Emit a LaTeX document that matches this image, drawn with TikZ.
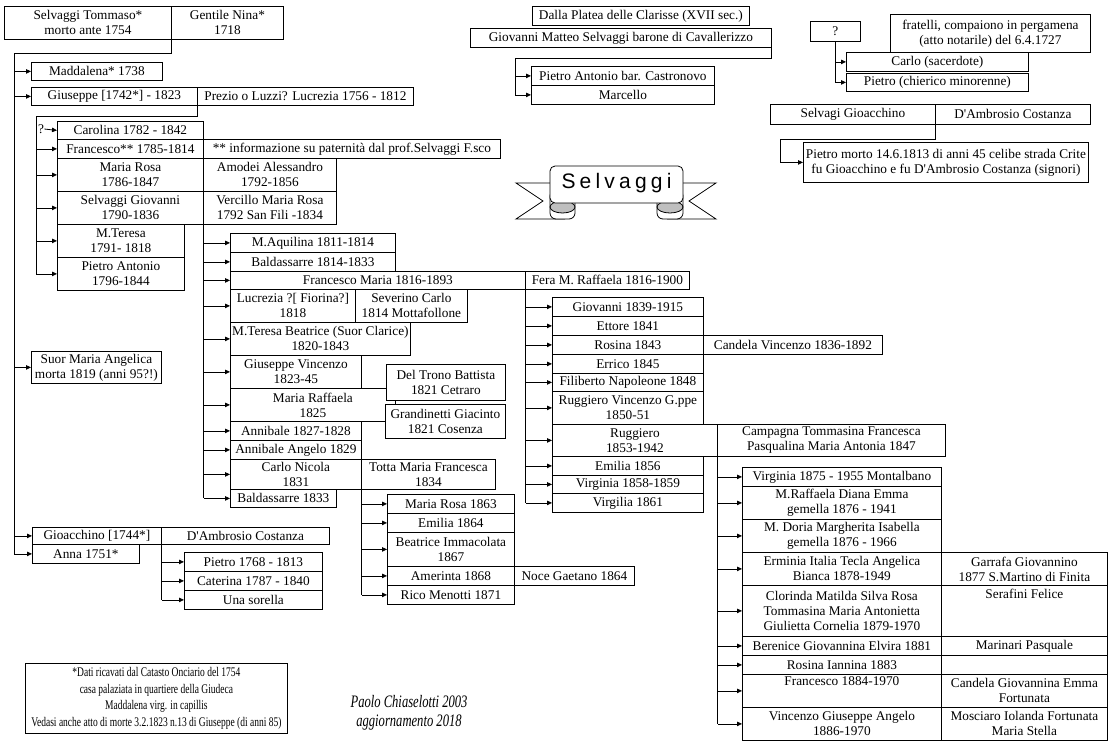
\documentclass[tikz,border=0pt]{standalone}
\usepackage{fontspec}
\setmainfont{Liberation Serif}
\newfontfamily\bannerfont[LetterSpace=20]{Liberation Sans}
\newfontfamily\notefont[FakeStretch=0.72]{Liberation Serif}
\newfontfamily\signfont[FakeStretch=0.72]{Liberation Serif}
\usetikzlibrary{arrows.meta}

\begin{document}
\begin{tikzpicture}[x=1pt,y=-1pt,>={Triangle[length=5pt,width=4.5pt]},line width=0.8pt,
  pbox/.style={draw,fill=white,anchor=north west,inner sep=1pt,align=center,font=\fontsize{13.3}{15}\selectfont},
  sz/.style 2 args={minimum width=#1,minimum height=#2}]
\useasboundingbox (0,0) rectangle (1110,745);
% Tommaso e Nina
\node[pbox,sz={167}{33}] (tommaso) at (4,6) {Selvaggi Tommaso*\\morto ante 1754};
\node[pbox,sz={112}{33}] (nina) at (171,6) {Gentile Nina*\\1718};
\node[pbox,sz={131}{18}] (maddalena) at (31,62) {Maddalena* 1738};
\node[pbox,sz={166}{18}] (giuseppe) at (31,87) {Giuseppe [1742*] - 1823};
\node[pbox,sz={216}{18}] (lucrezia) at (197,87) {Prezio o Luzzi? Lucrezia 1756 - 1812};
\node[pbox,sz={130}{32}] (angelica) at (31,351) {Suor Maria Angelica\\morta 1819 (anni 95?!)};
\node[pbox,sz={129}{17}] (gioacchino) at (32,527) {Gioacchino [1744*]};
\node[pbox,sz={168}{17}] (dambrosio) at (161,527) {D\textquotesingle Ambrosio Costanza};
\node[pbox,sz={107}{19}] (anna) at (32,544) {Anna 1751*};
% Giuseppe e Lucrezia
\node[font=\fontsize{13.3}{15}\selectfont,inner sep=0pt] (qcaro) at (41,129) {?};
\node[pbox,sz={146}{18}] (carolina) at (57,121) {Carolina 1782 - 1842};
\node[pbox,sz={146}{19}] (francesco) at (57,139) {Francesco** 1785-1814};
\node[pbox,sz={297}{19}] (fnote) at (203,139) {** informazione su paternità dal prof.Selvaggi F.sco};
\node[pbox,sz={146}{33}] (mrosa) at (57,158) {Maria Rosa\\1786-1847};
\node[pbox,sz={133}{33}] (amodei) at (203,158) {Amodei Alessandro\\1792-1856};
\node[pbox,sz={146}{33}] (giovanni) at (57,191) {Selvaggi Giovanni\\1790-1836};
\node[pbox,sz={133}{33}] (vercillo) at (203,191) {Vercillo Maria Rosa\\1792 San Fili -1834};
\node[pbox,sz={127}{33}] (mteresa) at (57,224) {M.Teresa\\1791- 1818};
\node[pbox,sz={127}{33}] (pantonio) at (57,257) {Pietro Antonio\\1796-1844};
% Gioacchino e D'Ambrosio
\node[pbox,sz={138}{19}] (pietro) at (184,552) {Pietro 1768 - 1813};
\node[pbox,sz={138}{19}] (caterina) at (184,571) {Caterina 1787 - 1840};
\node[pbox,sz={138}{19}] (sorella) at (184,590) {Una sorella};
% Giovanni e Vercillo
\node[pbox,sz={165}{19}] (aquilina) at (230,233) {M.Aquilina 1811-1814};
\node[pbox,sz={165}{19}] (baldA) at (230,252) {Baldassarre 1814-1833};
\node[pbox,sz={295}{18}] (fmaria) at (230,271) {Francesco Maria 1816-1893};
\node[pbox,sz={164}{18}] (fera) at (525,271) {Fera M. Raffaela 1816-1900};
\node[pbox,sz={125}{33}] (lucreziaB) at (230,289) {Lucrezia ?[ Fiorina?]\\1818};
\node[pbox,sz={112}{33}] (severino) at (355,289) {Severino Carlo\\1814 Mottafollone};
\node[pbox,sz={180}{33}] (mtbeatrice) at (230,322) {M.Teresa Beatrice (Suor Clarice)\\1820-1843};
\node[pbox,sz={131}{33}] (gvincenzo) at (230,355) {Giuseppe Vincenzo\\1823-45};
\node[pbox,sz={165}{33}] (mraffaela) at (230,388) {Maria Raffaela\\1825};
\node[pbox,sz={119}{36}] (deltrono) at (386,364) {Del Trono Battista\\1821 Cetraro};
\node[pbox,sz={120}{34}] (grandinetti) at (385,404) {Grandinetti Giacinto\\1821 Cosenza};
\node[pbox,sz={131}{19}] (annibale) at (230,421) {Annibale 1827-1828};
\node[pbox,sz={131}{19}] (annangelo) at (230,440) {Annibale Angelo 1829};
\node[pbox,sz={131}{30}] (carlo) at (230,459) {Carlo Nicola\\1831};
\node[pbox,sz={134}{30}] (totta) at (361,459) {Totta Maria Francesca\\1834};
\node[pbox,sz={106}{18}] (baldB) at (230,489) {Baldassarre 1833};
% Carlo Nicola e Totta
\node[pbox,sz={127}{19}] (mrosaB) at (387,494) {Maria Rosa 1863};
\node[pbox,sz={127}{19}] (emiliaB) at (387,513) {Emilia 1864};
\node[pbox,sz={127}{34}] (beatrice) at (387,532) {Beatrice Immacolata\\1867};
\node[pbox,sz={127}{19}] (amerinta) at (387,566) {Amerinta 1868};
\node[pbox,sz={120}{19}] (noce) at (514,566) {Noce Gaetano 1864};
\node[pbox,sz={127}{19}] (rico) at (387,585) {Rico Menotti 1871};
% Francesco Maria e Fera
\node[pbox,sz={151}{19}] (giovB) at (552,297) {Giovanni 1839-1915};
\node[pbox,sz={151}{19}] (ettore) at (552,316) {Ettore 1841};
\node[pbox,sz={151}{19}] (rosina) at (552,335) {Rosina 1843};
\node[pbox,sz={179}{19}] (candelaV) at (703,335) {Candela Vincenzo 1836-1892};
\node[pbox,sz={151}{19}] (errico) at (552,354) {Errico 1845};
\node[pbox,sz={151}{18}] (filiberto) at (552,373) {Filiberto Napoleone 1848};
\node[pbox,sz={151}{33}] (ruggV) at (552,391) {Ruggiero Vincenzo G.ppe\\1850-51};
\node[pbox,sz={165}{32}] (ruggiero) at (552,424) {Ruggiero\\1853-1942};
\node[pbox,sz={228}{32}] (campagna) at (717,424) {Campagna Tommasina Francesca\\Pasqualina Maria Antonia 1847};
\node[pbox,sz={151}{19}] (emiliaC) at (552,456) {Emilia 1856};
\node[pbox,sz={151}{18}] (virginiaA) at (552,475) {Virginia 1858-1859};
\node[pbox,sz={151}{19}] (virgilia) at (552,493) {Virgilia 1861};
% Ruggiero e Campagna
\node[pbox,sz={199}{19}] (virginiaB) at (742,467) {Virginia 1875 - 1955 Montalbano};
\node[pbox,sz={199}{33}] (mraffB) at (742,486) {M.Raffaela Diana Emma\\gemella 1876 - 1941};
\node[pbox,sz={199}{33}] (doria) at (742,519) {M. Doria Margherita Isabella\\gemella 1876 - 1966};
\node[pbox,sz={199}{33}] (erminia) at (742,552) {Erminia Italia Tecla Angelica\\Bianca 1878-1949};
\node[pbox,sz={166}{33}] (garrafa) at (941,552) {Garrafa Giovannino\\1877 S.Martino di Finita};
\node[pbox,sz={199}{51}] (clorinda) at (742,585) {Clorinda Matilda Silva Rosa\\Tommasina Maria Antonietta\\Giulietta Cornelia 1879-1970};
\node[pbox,sz={166}{51}] (serafini) at (941,585) {Serafini Felice\\\strut\\\strut};
\node[pbox,sz={199}{19}] (berenice) at (742,636) {Berenice Giovannina Elvira 1881};
\node[pbox,sz={166}{19}] (marinari) at (941,636) {Marinari Pasquale};
\node[pbox,sz={199}{19}] (rosinaB) at (742,655) {Rosina Iannina 1883};
\node[pbox,sz={166}{19}] (vuoto) at (941,655) {};
\node[pbox,sz={199}{33}] (francB) at (742,674) {Francesco 1884-1970\\\strut};
\node[pbox,sz={166}{33}] (candelaG) at (941,674) {Candela Giovannina Emma\\Fortunata};
\node[pbox,sz={199}{33}] (vincenzo) at (742,707) {Vincenzo Giuseppe Angelo\\1886-1970};
\node[pbox,sz={166}{33}] (mosciaro) at (941,707) {Mosciaro Iolanda Fortunata\\Maria Stella};
% Giovanni Matteo
\node[pbox,sz={217}{19}] (clarisse) at (532,6) {Dalla Platea delle Clarisse (XVII sec.)};
\node[pbox,sz={301}{19}] (gmatteo) at (470,28) {Giovanni Matteo Selvaggi barone di Cavallerizzo};
\node[pbox,sz={183}{19}] (castronovo) at (531,66) {Pietro Antonio bar. Castronovo};
\node[pbox,sz={183}{19}] (marcello) at (531,85) {Marcello};
% fratelli 1727
\node[pbox,sz={50}{20}] (qbox) at (810,21) {?};
\node[pbox,sz={200}{38}] (fratelli) at (890,14) {fratelli, compaiono in pergamena\\(atto notarile) del 6.4.1727};
\node[pbox,sz={182}{19}] (carloS) at (846,52) {Carlo (sacerdote)};
\node[pbox,sz={182}{18}] (pietroC) at (846,73) {Pietro (chierico minorenne)};
\node[pbox,sz={165}{20}] (sgioac) at (770,104) {Selvagi Gioacchino};
\node[pbox,sz={155}{20}] (sdamb) at (935,104) {D\textquotesingle Ambrosio Costanza};
\node[pbox,sz={285}{40}] (pmorto) at (803,142) {Pietro morto 14.6.1813 di anni 45 celibe strada Crite\\fu Gioacchino e fu D\textquotesingle Ambrosio Costanza (signori)};
% note
\node[pbox,sz={262}{70},font=\notefont\fontsize{13.2}{16.7}\selectfont] (note) at (25,663) {*Dati ricavati dal Catasto Onciario del 1754\\casa palaziata in quartiere della Giudeca\\Maddalena virg. in capillis\\Vedasi anche atto di morte 3.2.1823 n.13 di Giuseppe (di anni 85)};
\node[font=\signfont\itshape\fontsize{17.5}{19}\selectfont,align=center] (sign) at (409,713) {Paolo Chiaselotti 2003\\aggiornamento 2018};
% banner
\draw[fill=white] (560,183) -- (516,183) -- (543,201) -- (516,219) -- (565,219);
\draw[fill=white] (672,183) -- (716,183) -- (689,201) -- (716,219) -- (667,219);
\draw[fill=white,rounded corners=6] (550,190) rectangle (575,219);
\draw[fill=white,rounded corners=6] (657,190) rectangle (683,219);
\draw[fill=black!25] (562.5,207) ellipse (12.5pt and 6pt);
\draw[fill=black!25] (670,207) ellipse (13pt and 6pt);
\draw[fill=white,rounded corners=5] (550,166) rectangle (683,203);
\node[font=\bannerfont\fontsize{21}{21}\selectfont] (banner) at (616.5,183) {Selvaggi};
% connectors
\coordinate (tA) at (14,53);
\draw (tommaso.south east) |- (tA) -- (tA |- anna.west);
\foreach \c in {maddalena,giuseppe,angelica,gioacchino,anna} \draw[->] (tA |- \c.west) -- (\c.west);
\coordinate (tB) at (36,116);
\draw (giuseppe.south east) |- (tB) -- (tB |- pantonio.west);
\foreach \c in {francesco,mrosa,giovanni,mteresa,pantonio} \draw[->] (tB |- \c.west) -- (\c.west);
\draw[->] (qcaro.east) -- (carolina.west);
\draw (gioacchino.south east) -- (gioacchino.south east |- sorella.west);
\foreach \c in {pietro,caterina,sorella} \draw[->] (gioacchino.south east |- \c.west) -- (\c.west);
\draw (giovanni.south east) -- (giovanni.south east |- baldB.west);
\foreach \c in {aquilina,baldA,fmaria,lucreziaB,mtbeatrice,gvincenzo,mraffaela,annibale,annangelo,carlo,baldB} \draw[->] (giovanni.south east |- \c.west) -- (\c.west);
\draw (carlo.south east) -- (carlo.south east |- rico.west);
\foreach \c in {mrosaB,emiliaB,beatrice,amerinta,rico} \draw[->] (carlo.south east |- \c.west) -- (\c.west);
\draw (fmaria.south east) -- (fmaria.south east |- virgilia.west);
\foreach \c in {giovB,ettore,rosina,errico,filiberto,ruggV,ruggiero,emiliaC,virginiaA,virgilia} \draw[->] (fmaria.south east |- \c.west) -- (\c.west);
\draw (ruggiero.south east) -- (ruggiero.south east |- vincenzo.west);
\foreach \c in {virginiaB,mraffB,doria,erminia,clorinda,berenice,rosinaB,francB,vincenzo} \draw[->] (ruggiero.south east |- \c.west) -- (\c.west);
\coordinate (tG) at (515,58);
\draw (gmatteo.south east) |- (tG) -- (tG |- marcello.west);
\foreach \c in {castronovo,marcello} \draw[->] (tG |- \c.west) -- (\c.west);
\draw (qbox.south) -- (qbox.south |- pietroC.west);
\foreach \c in {carloS,pietroC} \draw[->] (qbox.south |- \c.west) -- (\c.west);
\coordinate (tS) at (780,139);
\draw (sgioac.south east) |- (tS) -- (tS |- pmorto.west);
\draw[->] (tS |- pmorto.west) -- (pmorto.west);
\end{tikzpicture}
\end{document}
